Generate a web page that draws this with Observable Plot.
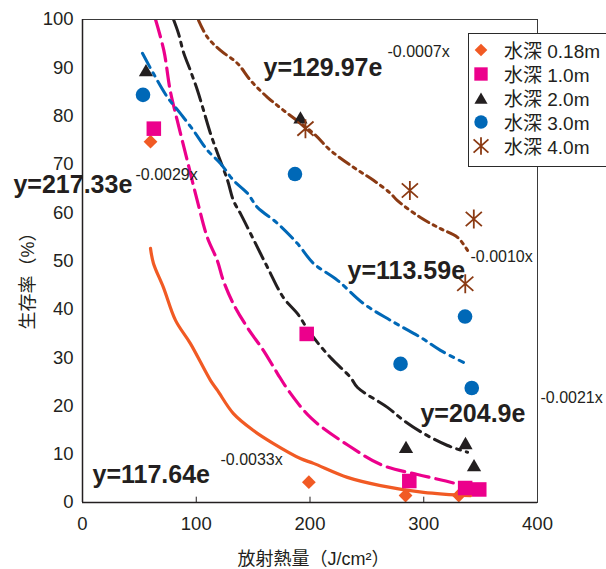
<!DOCTYPE html>
<html><head><meta charset="utf-8">
<script src="https://cdn.jsdelivr.net/npm/d3@7"></script>
<script src="https://cdn.jsdelivr.net/npm/@observablehq/plot@0.6"></script>
<style>
html,body{margin:0;padding:0;background:#fff;}
#wrap{position:relative;width:606px;height:569px;overflow:hidden;font-family:"Liberation Sans","Noto Sans CJK JP",sans-serif;color:#231f20;}
#wrap svg{position:absolute;left:0;top:0;}
#legend{position:absolute;left:468px;top:33px;width:150px;height:134px;border:1.5px solid #2a2a2a;background:#fff;box-sizing:border-box;}
.row{position:absolute;left:0;height:24px;line-height:24px;font-size:19px;white-space:nowrap;}
.row svg{position:absolute;left:7px;top:2px;}
.row span{position:absolute;left:35px;top:0;}
</style></head><body><div id="wrap"></div>
<script>
// ---- labels ----
const xLabel = "放射熱量（J/cm²）";
const yLabel = "生存率（%）";
const xTicks = [0, 100, 200, 300, 400];
const yTicks = [0, 10, 20, 30, 40, 50, 60, 70, 80, 90, 100];
const seriesNames = ["水深 0.18m", "水深 1.0m", "水深 2.0m", "水深 3.0m", "水深 4.0m"];
const seriesColors = ["#f15a24", "#ec008c", "#231f20", "#0068b7", "#8b3a13"];

// ---- observed points ----
const obsX_018 = [59.8, 199, 284, 330.8];
const obsY_018 = [74.7, 4.2, 1.45, 1.45];
const obsX_10 = [62.7, 197.1, 287.3, 336.4, 348.8];
const obsY_10 = [77.4, 34.9, 4.45, 3.0, 2.7];
const obsX_20 = [55.8, 191.6, 284.4, 336.7, 344.2];
const obsY_20 = [89.1, 79.3, 11.1, 11.9, 7.3];
const obsX_30 = [53.2, 186.8, 279.6, 336.3, 342.2];
const obsY_30 = [84.4, 68.0, 28.7, 38.5, 23.7];
const obsX_40 = [196, 287.8, 344, 336.5];
const obsY_40 = [77.4, 64.6, 58.7, 45.3];

// ---- fitted curves ----
const fitX_018 = [59.8, 62.4, 71.2, 81.8, 94.9, 112.5, 118.7, 132.7, 150.3, 167.9, 191.6, 203.1, 232.9, 262, 299.8, 341.1];
const fitY_018 = [52.6, 49.5, 44.5, 37.7, 32.9, 25.3, 23.2, 18.4, 14.9, 12.2, 9.1, 8.1, 5.2, 3.5, 2.1, 1.4];
const fitX_10 = [64.2, 71.5, 77.1, 83.3, 92.1, 100.9, 109.7, 118.5, 123.7, 132.5, 145, 159, 171.4, 181, 201.3, 233.8, 263.7, 294.5, 325.3, 338.5];
const fitY_10 = [100, 93.6, 85.3, 79.1, 70.8, 62.5, 54.9, 50.1, 46.0, 41.2, 36.2, 31.5, 26.7, 23.2, 17.4, 11.8, 7.7, 5.8, 4.1, 3.1];
const fitX_20 = [80, 84.4, 88.8, 94.9, 101.1, 106.4, 112.5, 118.7, 127.5, 132.7, 138.9, 147.7, 162.6, 176.7, 189, 200.4, 218, 235.6, 241.8, 268.1, 282.2, 299.8, 320.9, 338.5];
const fitY_20 = [100, 97.1, 93.2, 89.4, 85.3, 81.2, 76.4, 72.3, 66.7, 62.5, 59.8, 55.7, 48.7, 42.4, 39.1, 35.0, 30.0, 25.9, 23.8, 19.7, 17.0, 14.3, 11.8, 10.4];
const fitX_30 = [52.7, 62.4, 74.7, 86.2, 97.6, 109.9, 121.3, 132.7, 145.1, 153.8, 171.4, 189, 203.1, 224.2, 247, 270.8, 297.1, 314.7, 334.9];
const fitY_30 = [93.0, 88.8, 83.9, 80.5, 77.0, 72.9, 70.2, 66.7, 64.0, 61.1, 57.8, 53.6, 49.5, 46.0, 41.2, 37.7, 34.2, 31.5, 29.0];
const fitX_40 = [102, 109.9, 121.3, 136.3, 147.7, 162.6, 176.7, 203.1, 218, 238.2, 255.8, 270.8, 276.9, 297.1, 314.7, 329.7, 338.5];
const fitY_40 = [99.8, 96.3, 93.6, 90.9, 87.4, 83.9, 81.2, 76.4, 72.9, 69.4, 66.7, 64.0, 62.5, 59.0, 56.7, 54.9, 52.2];

// ---- equation labels ----
const eqText = ["y=117.64e", "y=217.33e", "y=204.9e", "y=113.59e", "y=129.97e"];
const eqX = [8.8, -60.7, 297.1, 233, 159.1];
const eqY = [4.1, 64.0, 16.6, 46.3, 88.4];
const expText = ["-0.0033x", "-0.0029x", "-0.0021x", "-0.0010x", "-0.0007x"];
const expX = [121.3, 46.6, 402.6, 341.1, 268.1];
const expY = [7.7, 66.7, 20.5, 49.7, 92.3];
// axis-title anchor positions (data units)
const yLabelPos = {x: -47.5, y: 46.8};
const xLabelPos = {x: 203, y: -11.8};

const obs = [[obsX_018, obsY_018], [obsX_10, obsY_10], [obsX_20, obsY_20], [obsX_30, obsY_30], [obsX_40, obsY_40]];
const fits = [[fitX_018, fitY_018], [fitX_10, fitY_10], [fitX_20, fitY_20], [fitX_30, fitY_30], [fitX_40, fitY_40]];

// styles
const starSymbol = {
  draw(ctx, size) {
    const r = Math.sqrt(size / Math.PI);
    const dx = r * 0.85, dy = r * 0.75;
    ctx.moveTo(0, -r); ctx.lineTo(0, r);
    ctx.moveTo(-dx, -dy); ctx.lineTo(dx, dy);
    ctx.moveTo(-dx, dy); ctx.lineTo(dx, -dy);
  }
};
const symbols = ["diamond2", "square", "triangle2", "circle", starSymbol];
const d3Symbols = [d3.symbolDiamond2, d3.symbolSquare, d3.symbolTriangle2, d3.symbolCircle, starSymbol];
const radii = [6.2, 8.2, 6.8, 7.3, 9.5];
const dashes = [null, "18,7", "18,6,4,6", "16,6,4,6", "12,5,3,5,3,5"];
const widths = [3.2, 3.2, 3, 3, 3];

const FONT = '"Liberation Sans","Noto Sans CJK JP",sans-serif';
const INK = "#231f20";

const lineMarks = fits.map(([xs, ys], i) =>
  Plot.line(xs.map((x, j) => ({x, y: ys[j]})), {
    x: "x", y: "y", stroke: seriesColors[i], strokeWidth: widths[i],
    strokeDasharray: dashes[i] || undefined, curve: "catmull-rom", clip: true
  })
);
const dotMarks = obs.map(([xs, ys], i) => {
  const data = xs.map((x, j) => ({x, y: ys[j]}));
  return i === 4
    ? Plot.dot(data, {x: "x", y: "y", symbol: symbols[i], r: radii[i], stroke: seriesColors[i], strokeWidth: 1.8, fill: "none"})
    : Plot.dot(data, {x: "x", y: "y", symbol: symbols[i], r: radii[i], fill: seriesColors[i], stroke: "none"});
});
const eqData = eqText.map((t, i) => ({t, x: eqX[i], y: eqY[i]}));
const expData = expText.map((t, i) => ({t, x: expX[i], y: expY[i]}));

const chart = Plot.plot({
  width: 606, height: 569,
  marginLeft: 82, marginRight: 69, marginTop: 19, marginBottom: 67,
  x: {domain: [0, 400]},
  y: {domain: [0, 100]},
  style: {fontFamily: FONT, color: INK, background: "transparent", overflow: "visible"},
  marks: [
    Plot.axisX({ticks: xTicks, tickSize: 0, tickPadding: 14, fontSize: 18.5, label: null, fill: INK}),
    Plot.axisY({ticks: yTicks, tickSize: 0, tickPadding: 9, fontSize: 18.5, label: null, fill: INK}),
    Plot.ruleX(xTicks.slice(1, -1), {y1: 0, y2: 1.1, stroke: INK, strokeWidth: 1}),
    ...lineMarks,
    ...dotMarks,
    Plot.text(eqData, {x: "x", y: "y", text: "t", textAnchor: "start", lineAnchor: "bottom", fontSize: 25, fontWeight: "bold", fill: INK}),
    Plot.text(expData, {x: "x", y: "y", text: "t", textAnchor: "start", lineAnchor: "bottom", fontSize: 16, fill: INK}),
    Plot.text([xLabel], {x: () => xLabelPos.x, y: () => xLabelPos.y, fontSize: 18, lineAnchor: "middle", fill: INK, clip: false}),
    Plot.text([yLabel], {x: () => yLabelPos.x, y: () => yLabelPos.y, rotate: -90, fontSize: 18, lineAnchor: "middle", fill: INK, clip: false}),
    Plot.frame({stroke: "#3a3a3a", strokeWidth: 1}),
    Plot.ruleX([0], {stroke: INK, strokeWidth: 1.5}),
    Plot.ruleY([0], {stroke: INK, strokeWidth: 1.5})
  ]
});

const wrap = document.getElementById("wrap");
wrap.appendChild(chart);

// legend
const legend = document.createElement("div");
legend.id = "legend";
seriesNames.forEach((name, i) => {
  const row = document.createElement("div");
  row.className = "row";
  row.style.top = (6 + i * 24) + "px";
  const r = radii[i] * 0.92;
  const path = d3.symbol(d3Symbols[i], Math.PI * r * r)();
  const paint = i === 4 ? `fill="none" stroke="${seriesColors[i]}" stroke-width="1.8"` : `fill="${seriesColors[i]}"`;
  const yoff = i === 2 ? 12 + 2 : 12;
  row.innerHTML = `<svg width="24" height="24"><path transform="translate(12,${yoff - 2})" d="${path}" ${paint}/></svg><span>${name}</span>`;
  legend.appendChild(row);
});
wrap.appendChild(legend);
</script>
</body></html>
